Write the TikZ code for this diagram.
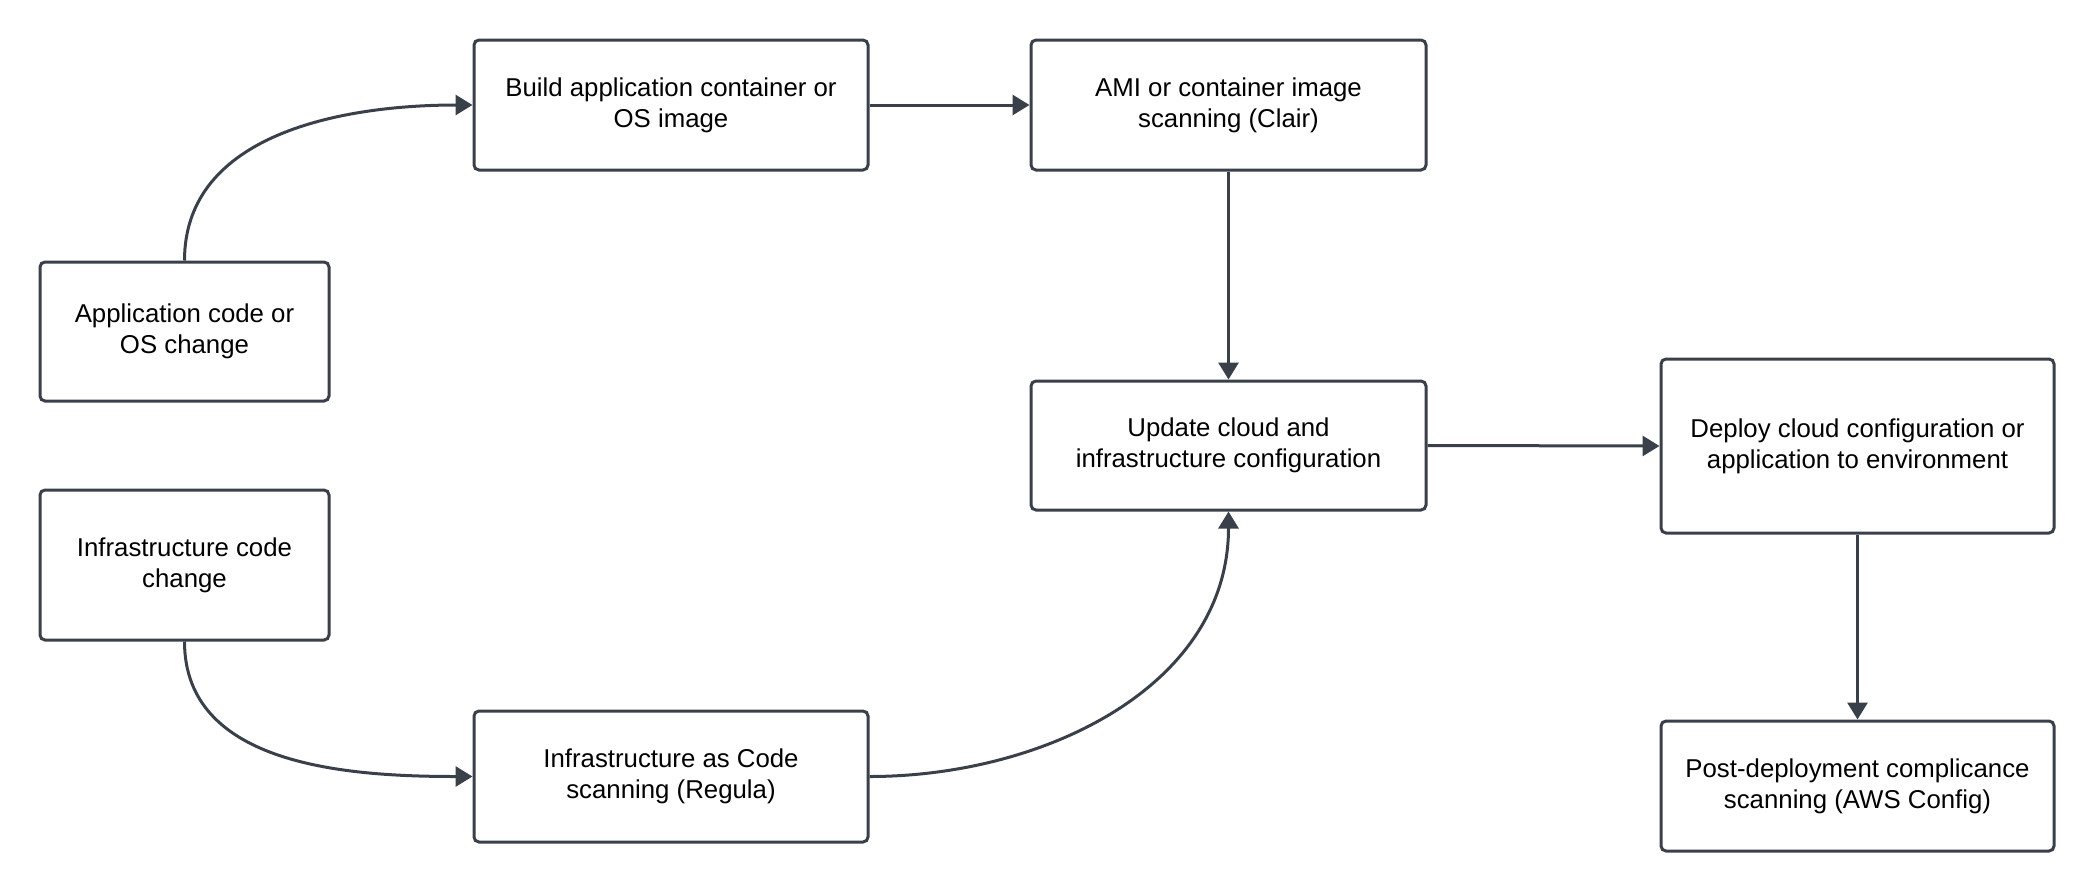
\documentclass[tikz,border=0pt]{standalone}
\usepackage{fontspec}
\setmainfont{Liberation Sans}
\usetikzlibrary{arrows.meta}

\begin{document}
\begin{tikzpicture}[x=1pt,y=1pt,
    box/.style={draw=linecolor,line width=3pt,rounded corners=5pt,align=center,
        inner sep=0pt,text=black,font=\fontsize{25.8}{31}\selectfont},
    flow/.style={draw=linecolor,line width=3pt,-{Triangle[length=17pt,width=20pt]}}]

    \definecolor{linecolor}{RGB}{58,64,73}

    % Frame of the page
    \useasboundingbox (0,0) rectangle (2095,-892);

    % Left column
    \node[box,minimum width=289,minimum height=139] (appchange) at (184.5,-331.5) {Application code or\\OS change};
    \node[box,minimum width=289,minimum height=150] (infrachange) at (184.5,-565) {Infrastructure code\\change};

    % Build and scan steps
    \node[box,minimum width=394,minimum height=130] (build) at (671,-105) {Build application container or\\OS image};
    \node[box,minimum width=395,minimum height=130] (imagescan) at (1228.5,-105) {AMI or container image\\scanning (Clair)};
    \node[box,minimum width=394,minimum height=131] (iacscan) at (671,-776.5) {Infrastructure as Code\\scanning (Regula)};

    % Update and deploy
    \node[box,minimum width=395,minimum height=129] (update) at (1228.5,-445.5) {Update cloud and\\infrastructure configuration};
    \node[box,minimum width=393,minimum height=174] (deploy) at (1857.5,-446) {Deploy cloud configuration or\\application to environment};
    \node[box,minimum width=393,minimum height=130] (postscan) at (1857.5,-786) {Post-deployment complicance\\scanning (AWS Config)};

    % Arrows
    \draw[flow] (appchange.north) to[out=90,in=180] (build.west);
    \draw[flow] (build.east) -- (imagescan.west);
    \draw[flow] (imagescan.south) -- (update.north);
    \draw[flow] (infrachange.south) to[out=-90,in=180] (iacscan.west);
    \draw[flow] (iacscan.east) to[out=0,in=-90] (update.south);
    \draw[flow] (update.east) -- (deploy.west);
    \draw[flow] (deploy.south) -- (postscan.north);

\end{tikzpicture}
\end{document}
